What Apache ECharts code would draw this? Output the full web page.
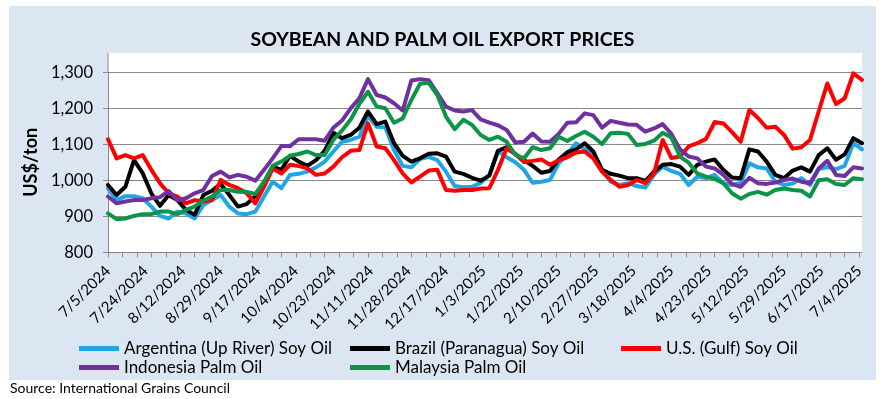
<!DOCTYPE html>
<html>
<head>
<meta charset="utf-8">
<title>Soybean and Palm Oil Export Prices</title>
<script src="https://cdn.jsdelivr.net/npm/echarts/dist/echarts.min.js"></script>
<style>
  html, body { margin: 0; padding: 0; background: #fff; }
  #chart { width: 885px; height: 399px; }
</style>
</head>
<body>
<div id="chart"></div>
<script>
// weekday dates from 7/5/2024, one category per trading day
var startDay = new Date(2024, 6, 5);
var dayCount = 262;
var categories = [];
for (var d = new Date(startDay); categories.length < dayCount; d.setDate(d.getDate() + 1)) {
  if (d.getDay() === 0 || d.getDay() === 6) continue;
  categories.push((d.getMonth() + 1) + '/' + d.getDate() + '/' + d.getFullYear());
}

// values read every 3rd trading day (US$/ton)
var SAMPLE_STEP = 3;

var argentina = [978, 945, 956, 956, 950, 927, 901, 894, 913, 908, 894, 931, 945, 959, 927, 908, 906, 913, 955, 996, 978, 1015,
  1018, 1024, 1036, 1052, 1080, 1107, 1112, 1121, 1179, 1149, 1147, 1084, 1040, 1036, 1059, 1065, 1056, 1024, 984, 981, 982,
  993, 1015, 1082, 1064, 1050, 1029, 993, 996, 1001, 1047, 1073, 1103, 1086, 1077, 1031, 996, 987, 992, 984, 980, 1015, 1038,
  1026, 1018, 987, 1010, 1006, 1015, 992, 987, 993, 1047, 1036, 1033, 996, 987, 991, 1006, 987, 1031, 1037, 1031, 1040, 1103, 1086];

var brazil = [987, 959, 982, 1056, 1020, 964, 929, 959, 945, 918, 904, 959, 971, 990, 959, 927, 934, 956, 987, 1038, 1029, 1068,
  1052, 1040, 1056, 1082, 1132, 1117, 1126, 1146, 1191, 1156, 1163, 1103, 1068, 1052, 1061, 1074, 1075, 1066, 1024, 1018, 1007,
  999, 1013, 1082, 1092, 1073, 1056, 1040, 1021, 1026, 1058, 1078, 1086, 1103, 1080, 1029, 1018, 1013, 1006, 1006, 998, 1024, 1043,
  1045, 1038, 1015, 1043, 1052, 1058, 1029, 1008, 1006, 1086, 1080, 1052, 1015, 1006, 1027, 1036, 1024, 1070, 1089, 1057, 1072, 1117, 1103];

var usGulf = [1114, 1061, 1070, 1061, 1070, 1029, 992, 964, 955, 936, 945, 941, 945, 1001, 987, 978, 964, 936, 982, 1033, 1019, 1043,
  1040, 1033, 1015, 1019, 1038, 1064, 1082, 1084, 1158, 1094, 1089, 1056, 1019, 994, 1010, 1027, 1029, 973, 971, 973, 973,
  977, 978, 1029, 1089, 1073, 1051, 1054, 1058, 1043, 1056, 1064, 1077, 1080, 1061, 1024, 1001, 982, 987, 1001, 992, 1019, 1112,
  1062, 1066, 1094, 1103, 1115, 1162, 1158, 1134, 1107, 1195, 1173, 1146, 1149, 1126, 1088, 1092, 1112, 1191, 1269, 1212, 1228, 1297, 1279];

var indonesia = [955, 936, 941, 945, 945, 950, 953, 970, 944, 950, 964, 973, 1012, 1024, 1008, 1015, 1010, 999, 1029, 1061, 1095, 1095,
  1114, 1114, 1114, 1110, 1146, 1166, 1200, 1228, 1281, 1237, 1230, 1214, 1194, 1277, 1281, 1278, 1242, 1205, 1194, 1191, 1195,
  1169, 1160, 1153, 1140, 1105, 1107, 1130, 1108, 1107, 1129, 1160, 1161, 1186, 1181, 1146, 1165, 1160, 1155, 1154, 1135, 1144, 1156,
  1129, 1086, 1066, 1061, 1038, 1033, 1015, 990, 982, 1007, 992, 990, 994, 1001, 1005, 996, 992, 1033, 1054, 1015, 1012, 1036, 1033];

var malaysia = [908, 892, 894, 901, 906, 906, 913, 913, 906, 918, 927, 944, 955, 973, 973, 968, 968, 962, 996, 1040, 1052, 1068,
  1073, 1080, 1070, 1070, 1112, 1138, 1169, 1212, 1246, 1205, 1200, 1160, 1172, 1223, 1268, 1271, 1237, 1177, 1142, 1168, 1154,
  1126, 1112, 1121, 1107, 1071, 1061, 1092, 1084, 1089, 1121, 1109, 1123, 1135, 1121, 1101, 1131, 1132, 1129, 1098, 1101, 1110, 1132,
  1119, 1066, 1049, 1019, 1010, 1004, 992, 964, 949, 962, 968, 960, 973, 977, 973, 971, 955, 1000, 1003, 990, 987, 1006, 1003];

var seriesNames = ['Argentina (Up River) Soy Oil', 'Brazil (Paranagua) Soy Oil', 'U.S. (Gulf) Soy Oil',
  'Indonesia Palm Oil', 'Malaysia Palm Oil'];
var seriesValues = [argentina, brazil, usGulf, indonesia, malaysia];
var seriesColors = ['#1ea6e6', '#000000', '#ff0000', '#7030a0', '#0d9448'];

var yTicks = [800, 900, 1000, 1100, 1200, 1300];

var FONT = 'Lato';
var gridColor = '#898989';

var myChart = echarts.init(document.getElementById('chart'));

// place sampled values on their trading-day category
function toPoints(vals) {
  return vals.map(function (v, k) { return [k * SAMPLE_STEP, v]; });
}

var legendPos = [[79, 340], [350, 340], [621, 340], [79, 359], [350, 359]];

var option = {
  backgroundColor: '#ffffff',
  animation: false,
  title: {
    text: 'SOYBEAN AND PALM OIL EXPORT PRICES',
    left: 'center',
    top: 25,
    textStyle: { fontFamily: FONT, fontWeight: 'bold', fontSize: 19.5, color: '#000' }
  },
  graphic: [
    { type: 'rect', z: -10, shape: { x: 9, y: 6, width: 867, height: 374 }, style: { fill: '#dce6f2' } },
    { type: 'rect', z: -9, shape: { x: 108, y: 53, width: 754, height: 199.3 }, style: { fill: '#ffffff' } },
    { type: 'line', z: 1, shape: { x1: 108, y1: 53, x2: 108, y2: 73 }, style: { stroke: gridColor, lineWidth: 1 } },
    { type: 'text', left: 10, top: 381, style: { text: 'Source: International Grains Council', font: '14px ' + FONT, fill: '#000' } }
  ],
  legend: seriesNames.map(function (n, i) {
    return {
      data: [n], left: legendPos[i][0], top: legendPos[i][1], padding: 0,
      icon: 'rect', itemWidth: 40, itemHeight: 5, selectedMode: false,
      textStyle: { fontFamily: FONT, fontSize: 17, color: '#000' }
    };
  }),
  grid: { left: 108, right: 23, top: 72.3, bottom: 146.7 },
  xAxis: {
    type: 'category',
    data: categories,
    boundaryGap: false,
    axisLine: { lineStyle: { color: gridColor } },
    axisTick: { interval: 4, length: 5, lineStyle: { color: gridColor } },
    axisLabel: { interval: 12, rotate: 45, margin: 16, fontFamily: FONT, fontSize: 15, color: '#000' },
    splitLine: { show: false }
  },
  yAxis: {
    type: 'value',
    min: yTicks[0],
    max: yTicks[yTicks.length - 1],
    interval: 100,
    name: 'US$/ton',
    nameLocation: 'middle',
    nameGap: 66,
    nameTextStyle: { fontFamily: FONT, fontWeight: 'bold', fontSize: 18, color: '#000' },
    axisLine: { show: true, lineStyle: { color: gridColor } },
    axisTick: { show: true, length: 5, lineStyle: { color: gridColor } },
    splitLine: { lineStyle: { color: gridColor } },
    axisLabel: {
      margin: 15, fontFamily: FONT, fontSize: 16.5, color: '#000',
      formatter: function (v) { return v.toLocaleString('en-US'); }
    }
  },
  series: seriesNames.map(function (n, i) {
    return {
      name: n,
      type: 'line',
      data: toPoints(seriesValues[i]),
      symbol: 'none',
      color: seriesColors[i],
      lineStyle: { width: 4, color: seriesColors[i], join: 'round', cap: 'round' }
    };
  })
};

myChart.setOption(option);
</script>
</body>
</html>
